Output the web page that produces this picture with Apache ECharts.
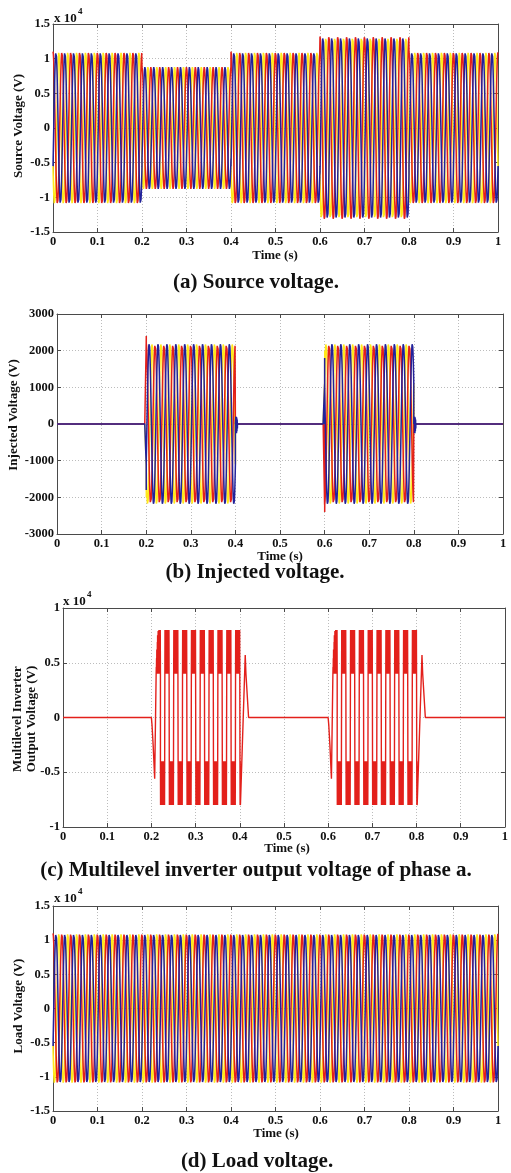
<!DOCTYPE html>
<html>
<head>
<meta charset="utf-8">
<script src="https://cdn.jsdelivr.net/npm/echarts@6/dist/echarts.min.js"></script>
<style>
  html, body { margin: 0; padding: 0; background: #ffffff; }
  #chart { width: 511px; height: 1173px; }
</style>
</head>
<body>
<div id="chart"></div>
<script>
// ---------------- data ----------------
// time axis (s)
const timeTicks = [0, 0.1, 0.2, 0.3, 0.4, 0.5, 0.6, 0.7, 0.8, 0.9, 1];
const mainsHz = 50;

// three-phase traces are drawn in this order: yellow, red, blue
const phaseKeys = ['yellow', 'red', 'blue'];
const phaseOffsetDeg = { red: 0, blue: -120, yellow: 120 };

// operating intervals (s) and the peak value in each interval (V)
const intervalEdges = [0, 0.2, 0.4, 0.6, 0.8, 1.0];
const sourcePeak   = [11000, 8800, 11000, 13200, 11000];
const injectedPeak = [0, 2200, 0, -2200, 0];
const loadPeak     = [11000, 11000, 11000, 11000, 11000];

// switching transients on the injected voltage, [t (s), V]
const injectedSpikesRed = [[0.2002, 2400], [0.6002, -2400]];
const injectedSpikesBlue = [
  [0.2001, -1800],
  [0.401, 200], [0.4015, -250], [0.402, 200], [0.4025, -250], [0.403, 180], [0.4035, -200], [0.404, 120], [0.4045, -120], [0.405, 0],
  [0.6001, 1800],
  [0.801, 200], [0.8015, -250], [0.802, 200], [0.8025, -250], [0.803, 180], [0.8035, -200], [0.804, 120], [0.8045, -120], [0.805, 0]
];
const injectedSpikesYellow = [[0.2003, -2000], [0.6003, 2000]];

// multilevel inverter, phase a
const inverterBurstStart = [0.2, 0.6];          // s
const inverterLevels = [4000, 8000];            // inner / outer level (V)
// half-cycle boundaries after each burst start (s); first half positive, then alternating
const inverterHalfEdges = [0.0108, 0.0205, 0.0305, 0.0405, 0.0505, 0.0605, 0.0705, 0.0805, 0.0905, 0.1005,
                           0.1105, 0.1205, 0.1305, 0.1405, 0.1505, 0.1605, 0.1705, 0.1805, 0.1905, 0.2005];
// rising outer level during the first positive half-cycle, [t after burst start, V]
const inverterRampEnvelope = [[0.0108, 4600], [0.0115, 5400], [0.0122, 6200], [0.0130, 6900], [0.0140, 7500], [0.0152, 7900], [0.0165, 8000]];
const inverterStartTransient = [[0.0003, -150], [0.0015, -700], [0.0040, -2500], [0.0075, -5600], [0.0108, 4000]];
const inverterEndTransient = [[0.2005, -4000], [0.2008, -8000], [0.2011, -4000], [0.2014, -8000], [0.2017, -7800],
                              [0.2124, 5700], [0.2140, 4000], [0.2200, 0]];

// ---------------- trace builders ----------------
const SAMPLE_DT = 0.0002;
const SWITCH_DT = 0.0003;

function threePhaseTrace(peaks, key, spikes) {
  const pts = [];
  const w = 2 * Math.PI * mainsHz;
  const ph = phaseOffsetDeg[key] * Math.PI / 180;
  for (let s = 0; s < peaks.length; s++) {
    const a = intervalEdges[s], b = intervalEdges[s + 1];
    const n = Math.round((b - a) / SAMPLE_DT);
    for (let i = 0; i <= n; i++) {
      const t = a + i * SAMPLE_DT;
      pts.push([t, peaks[s] * Math.cos(w * t + ph)]);
    }
  }
  if (spikes && spikes.length) {
    spikes.forEach(p => pts.push([p[0], p[1]]));
    pts.sort((p, q) => p[0] - q[0]);
  }
  return pts;
}

function rampTop(rel) {
  let v = inverterRampEnvelope[0][1];
  for (const [t, val] of inverterRampEnvelope) { if (t <= rel) v = val; }
  return v;
}

function inverterTrace() {
  const pts = [[0, 0]];
  const inner = inverterLevels[0], outer = inverterLevels[1];
  for (const s of inverterBurstStart) {
    pts.push([s, 0]);
    inverterStartTransient.forEach(([t, v]) => pts.push([s + t, v]));
    for (let i = 0; i < inverterHalfEdges.length - 1; i++) {
      const sign = i % 2 === 0 ? 1 : -1;
      const t0 = s + inverterHalfEdges[i], t1 = s + inverterHalfEdges[i + 1];
      pts.push([t0, sign * inner]);
      let hi = true;
      for (let t = t0 + SWITCH_DT; t < t1 - SWITCH_DT / 2; t += SWITCH_DT) {
        const top = i === 0 ? rampTop(t - s) : outer;
        pts.push([t, sign * (hi ? top : inner)]);
        hi = !hi;
      }
      pts.push([t1, sign * inner]);
    }
    inverterEndTransient.forEach(([t, v]) => pts.push([s + t, v]));
  }
  pts.push([1, 0]);
  return pts;
}

// ---------------- layout & style ----------------
const FONT = '"Liberation Serif", "Times New Roman", serif';
const AXIS_COLOR = '#4a4a4a';
const TEXT_COLOR = '#111111';
const GRID_LINE = { color: '#bcbcbc', type: [1, 2], width: 1 };
const COLORS = { red: '#e3201b', blue: '#22229a', yellow: '#ffe81a' };
const TRACE_W = 1.5;

const grids = [
  { left: 53, top: 24, width: 445, height: 208 },
  { left: 57, top: 314, width: 446, height: 220 },
  { left: 63, top: 608, width: 447, height: 219 },
  { left: 53, top: 906, width: 445, height: 205 }
];

const fmtTime = v => String(Math.round(v * 10) / 10);
const fmtE4 = v => String(Math.round(v / 1000) / 10);
const fmtPlain = v => String(Math.round(v));

const yRanges = [
  { min: -15000, max: 15000, interval: 5000, fmt: fmtE4 },
  { min: -3000, max: 3000, interval: 1000, fmt: fmtPlain },
  { min: -10000, max: 10000, interval: 5000, fmt: fmtE4 },
  { min: -15000, max: 15000, interval: 5000, fmt: fmtE4 }
];

const tickLabelStyle = { color: TEXT_COLOR, fontFamily: FONT, fontWeight: 'bold', fontSize: 12.5 };

const xAxis = [], yAxis = [];
grids.forEach((g, i) => {
  const common = { type: 'value', gridIndex: i, min: timeTicks[0], max: timeTicks[timeTicks.length - 1], interval: 0.1 };
  xAxis.push(Object.assign({}, common, {
    position: 'bottom',
    axisLine: { show: true, onZero: false, lineStyle: { color: AXIS_COLOR, width: 1 } },
    axisTick: { show: true, inside: true, length: 4, lineStyle: { color: AXIS_COLOR } },
    axisLabel: Object.assign({ show: true, margin: 3, showMinLabel: true, showMaxLabel: true, formatter: fmtTime }, tickLabelStyle),
    splitLine: { show: true, lineStyle: GRID_LINE }
  }));
  xAxis.push(Object.assign({}, common, {
    position: 'top',
    axisLine: { show: true, onZero: false, lineStyle: { color: AXIS_COLOR, width: 1 } },
    axisTick: { show: true, inside: true, length: 4, lineStyle: { color: AXIS_COLOR } },
    axisLabel: { show: false },
    splitLine: { show: false }
  }));
  const yr = yRanges[i];
  const ycommon = { type: 'value', gridIndex: i, min: yr.min, max: yr.max, interval: yr.interval };
  yAxis.push(Object.assign({}, ycommon, {
    position: 'left',
    axisLine: { show: true, onZero: false, lineStyle: { color: AXIS_COLOR, width: 1 } },
    axisTick: { show: true, inside: true, length: 4, lineStyle: { color: AXIS_COLOR } },
    axisLabel: Object.assign({ show: true, margin: 3, showMinLabel: true, showMaxLabel: true, formatter: yr.fmt }, tickLabelStyle),
    splitLine: { show: true, lineStyle: GRID_LINE }
  }));
  yAxis.push(Object.assign({}, ycommon, {
    position: 'right',
    axisLine: { show: true, onZero: false, lineStyle: { color: AXIS_COLOR, width: 1 } },
    axisTick: { show: true, inside: true, length: 4, lineStyle: { color: AXIS_COLOR } },
    axisLabel: { show: false },
    splitLine: { show: false }
  }));
});

function lineSeries(gridIdx, data, color, width) {
  return {
    type: 'line', xAxisIndex: gridIdx * 2, yAxisIndex: gridIdx * 2,
    data: data, showSymbol: false, symbol: 'none', silent: true, animation: false,
    lineStyle: { color: color, width: width }
  };
}

const series = [];
const injectedSpikes = { red: injectedSpikesRed, blue: injectedSpikesBlue, yellow: injectedSpikesYellow };
phaseKeys.forEach(k => series.push(lineSeries(0, threePhaseTrace(sourcePeak, k), COLORS[k], TRACE_W)));
phaseKeys.forEach(k => series.push(lineSeries(1, threePhaseTrace(injectedPeak, k, injectedSpikes[k]), COLORS[k], TRACE_W)));
series.push(lineSeries(2, inverterTrace(), COLORS.red, 1.4));
phaseKeys.forEach(k => series.push(lineSeries(3, threePhaseTrace(loadPeak, k), COLORS[k], TRACE_W)));

// ---------------- texts ----------------
function txt(x, y, text, size, rotate, align) {
  return {
    type: 'text', x: x, y: y, rotation: rotate ? Math.PI / 2 : 0, silent: true,
    style: { text: text, fill: TEXT_COLOR, font: 'bold ' + size + 'px ' + FONT, align: align || 'center', verticalAlign: 'middle' }
  };
}

const graphic = [
  // axis titles
  txt(19, 126, 'Source Voltage (V)', 13, true),
  txt(275, 256, 'Time (s)', 13),
  txt(14, 415, 'Injected Voltage (V)', 13, true),
  txt(280, 557, 'Time (s)', 13),
  txt(17.5, 719, 'Multilevel Inverter', 13, true),
  txt(32, 719, 'Output Voltage (V)', 13, true),
  txt(287, 849, 'Time (s)', 13),
  txt(19, 1006, 'Load Voltage (V)', 13, true),
  txt(276, 1134, 'Time (s)', 13),
  // exponent markers
  txt(54, 19, 'x 10', 13, false, 'left'),
  txt(78, 12, '4', 9, false, 'left'),
  txt(63, 602, 'x 10', 13, false, 'left'),
  txt(87, 595, '4', 9, false, 'left'),
  txt(54, 899, 'x 10', 13, false, 'left'),
  txt(78, 892, '4', 9, false, 'left'),
  // sub-figure captions
  txt(256, 283, '(a) Source voltage.', 21),
  txt(255, 573, '(b) Injected voltage.', 21),
  txt(256, 871, '(c) Multilevel inverter output voltage of phase a.', 21),
  txt(257, 1162, '(d) Load voltage.', 21)
];

const chart = echarts.init(document.getElementById('chart'), null, { renderer: 'canvas', width: 511, height: 1173 });
chart.setOption({
  animation: false,
  backgroundColor: '#ffffff',
  grid: grids.map(g => Object.assign({ show: false, containLabel: false }, g)),
  xAxis: xAxis,
  yAxis: yAxis,
  series: series,
  graphic: graphic
});
</script>
</body>
</html>
